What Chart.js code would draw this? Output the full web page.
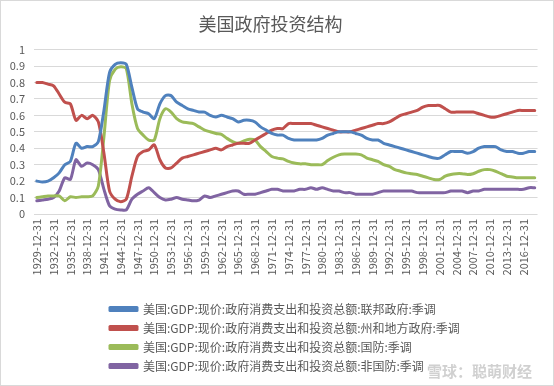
<!DOCTYPE html>
<html>
<head>
<meta charset="utf-8">
<script src="https://cdn.jsdelivr.net/npm/chart.js@4"></script>
<style>
  html, body { margin: 0; padding: 0; background: #fff; }
  #wrap {
    position: relative;
    width: 554px;
    height: 386px;
    box-sizing: border-box;
    border: 1px solid #d9d9d9;
  }
  #mark {
    position: absolute;
    left: 426px;
    top: 359px;
    font: bold 15px "Noto Sans CJK SC", sans-serif;
    color: rgba(170, 170, 170, 0.55);
    white-space: nowrap;
  }
</style>
</head>
<body>
<div id="wrap">
  <canvas id="myChart" width="552" height="384"></canvas>
  <div id="mark">雪球：聪萌财经</div>
</div>
<script>
// 1929 - 2018, yearly
var years = [];
for (var y = 1929; y <= 2018; y++) years.push(y + "-12-31");

var federal = [
  0.20, 0.195, 0.20, 0.22, 0.25, 0.30, 0.32, 0.43, 0.40, 0.41,
  0.41, 0.44, 0.63, 0.86, 0.91, 0.92, 0.91, 0.77, 0.64, 0.62,
  0.61, 0.58, 0.67, 0.72, 0.72, 0.68, 0.66, 0.64, 0.63, 0.62,
  0.62, 0.60, 0.59, 0.60, 0.59, 0.58, 0.56, 0.57, 0.57, 0.56,
  0.53, 0.51, 0.49, 0.48, 0.48, 0.46, 0.45, 0.45, 0.45, 0.45,
  0.45, 0.46, 0.48, 0.49, 0.50, 0.50, 0.50, 0.49, 0.48, 0.46,
  0.45, 0.45, 0.43, 0.42, 0.41, 0.40, 0.39, 0.38, 0.37, 0.36,
  0.35, 0.34, 0.34, 0.36, 0.38, 0.38, 0.38, 0.37, 0.38, 0.40,
  0.41, 0.41, 0.41, 0.39, 0.38, 0.38, 0.37, 0.37, 0.38, 0.38
];

var stateLocal = [
  0.80, 0.80, 0.79, 0.78, 0.73, 0.68, 0.67, 0.57, 0.60, 0.58,
  0.60, 0.56, 0.37, 0.14, 0.09, 0.075, 0.09, 0.23, 0.35, 0.38,
  0.39, 0.42, 0.33, 0.28, 0.28, 0.31, 0.34, 0.35, 0.36, 0.37,
  0.38, 0.39, 0.40, 0.39, 0.41, 0.42, 0.43, 0.43, 0.43, 0.45,
  0.47, 0.49, 0.51, 0.52, 0.52, 0.55, 0.55, 0.55, 0.55, 0.55,
  0.54, 0.53, 0.52, 0.51, 0.50, 0.50, 0.50, 0.51, 0.52, 0.53,
  0.54, 0.55, 0.55, 0.56, 0.58, 0.60, 0.61, 0.62, 0.63, 0.65,
  0.66, 0.66, 0.66, 0.64, 0.62, 0.62, 0.62, 0.62, 0.62, 0.61,
  0.60, 0.59, 0.59, 0.60, 0.61, 0.62, 0.63, 0.63, 0.63, 0.63
];

var defense = [
  0.10, 0.105, 0.11, 0.11, 0.11, 0.08, 0.105, 0.10, 0.105, 0.105,
  0.11, 0.17, 0.47, 0.81, 0.88, 0.895, 0.885, 0.67, 0.52, 0.48,
  0.45, 0.45, 0.58, 0.64, 0.62, 0.58, 0.56, 0.555, 0.55, 0.53,
  0.51, 0.50, 0.49, 0.485, 0.46, 0.44, 0.43, 0.445, 0.455, 0.45,
  0.41, 0.38, 0.35, 0.34, 0.335, 0.32, 0.31, 0.305, 0.305, 0.30,
  0.30, 0.30, 0.325, 0.345, 0.36, 0.365, 0.365, 0.365, 0.36, 0.34,
  0.33, 0.32, 0.30, 0.29, 0.27, 0.26, 0.25, 0.245, 0.24, 0.23,
  0.22, 0.21, 0.21, 0.23, 0.24, 0.245, 0.245, 0.24, 0.245, 0.26,
  0.27, 0.27, 0.26, 0.245, 0.23, 0.225, 0.22, 0.22, 0.22, 0.22
];

var nonDefense = [
  0.08, 0.085, 0.09, 0.10, 0.14, 0.22, 0.21, 0.33, 0.29, 0.31,
  0.30, 0.27, 0.15, 0.05, 0.03, 0.025, 0.025, 0.09, 0.12, 0.14,
  0.16, 0.13, 0.10, 0.085, 0.09, 0.10, 0.09, 0.085, 0.08, 0.085,
  0.11, 0.10, 0.11, 0.12, 0.13, 0.14, 0.14, 0.12, 0.12, 0.12,
  0.13, 0.14, 0.15, 0.15, 0.14, 0.14, 0.14, 0.15, 0.15, 0.16,
  0.15, 0.16, 0.15, 0.14, 0.14, 0.13, 0.13, 0.12, 0.12, 0.12,
  0.12, 0.13, 0.14, 0.14, 0.14, 0.14, 0.14, 0.14, 0.13, 0.13,
  0.13, 0.13, 0.13, 0.13, 0.14, 0.14, 0.14, 0.13, 0.14, 0.14,
  0.15, 0.15, 0.15, 0.15, 0.15, 0.15, 0.15, 0.15, 0.16, 0.16
];

var seriesNames = [
  "美国:GDP:现价:政府消费支出和投资总额:联邦政府:季调",
  "美国:GDP:现价:政府消费支出和投资总额:州和地方政府:季调",
  "美国:GDP:现价:政府消费支出和投资总额:国防:季调",
  "美国:GDP:现价:政府消费支出和投资总额:非国防:季调"
];

var lineColors = ["#4f81bd", "#c0504d", "#9bbb59", "#8064a2"];

var fontFamily = '"Noto Sans CJK SC", "Noto Sans", sans-serif';
var textColor = "#595959";

function makeSet(i, values) {
  return {
    label: seriesNames[i],
    data: values,
    borderColor: lineColors[i],
    backgroundColor: lineColors[i],
    borderWidth: 3,
    pointRadius: 0,
    pointHoverRadius: 0,
    tension: 0.25,
    borderCapStyle: "round",
    borderJoinStyle: "round",
    fill: false,
  };
}

// shift the legend block so every row starts at the same x, like the excel legend
const legendShift = {
  id: "legendShift",
  afterLayout(chart) {
    const lg = chart.legend;
    if (!lg) return;
    const dx = 102 - lg.left;
    lg.left += dx;
    lg.right += dx;
  },
};

new Chart("myChart", {
  type: "line",
  data: {
    labels: years,
    datasets: [
      makeSet(0, federal),
      makeSet(1, stateLocal),
      makeSet(2, defense),
      makeSet(3, nonDefense),
    ],
  },
  plugins: [legendShift],
  options: {
    responsive: false,
    animation: false,
    devicePixelRatio: 1,
    layout: {
      padding: { left: 0, right: 13, top: 0, bottom: 3 },
    },
    scales: {
      x: {
        offset: true,
        grid: { display: false, drawTicks: false },
        border: { display: false },
        ticks: {
          autoSkip: false,
          maxRotation: 90,
          minRotation: 90,
          padding: 5,
          color: textColor,
          font: { family: fontFamily, size: 11 },
          callback: (value, index) => {
            return index % 3 === 0 ? years[index] : "";
          },
        },
        afterFit: (scale) => {
          scale.height = 82;
        },
      },
      y: {
        min: 0,
        max: 1,
        grid: { color: "#d9d9d9", lineWidth: 1, drawTicks: false },
        border: { display: false },
        ticks: {
          stepSize: 0.1,
          padding: 9,
          color: textColor,
          font: { family: fontFamily, size: 11 },
          callback: (value) => {
            return +value.toFixed(1);
          },
        },
        afterFit: (scale) => {
          scale.width = 33;
        },
      },
    },
    plugins: {
      title: {
        display: true,
        text: "美国政府投资结构",
        color: textColor,
        font: { family: fontFamily, size: 18, weight: "normal" },
        padding: { top: 12, bottom: 15 },
      },
      legend: {
        position: "bottom",
        align: "start",
        labels: {
          boxWidth: 27,
          boxHeight: 3,
          padding: 7,
          color: textColor,
          font: { family: fontFamily, size: 12 },
        },
      },
      tooltip: { enabled: false },
    },
  },
});
</script>
</body>
</html>
